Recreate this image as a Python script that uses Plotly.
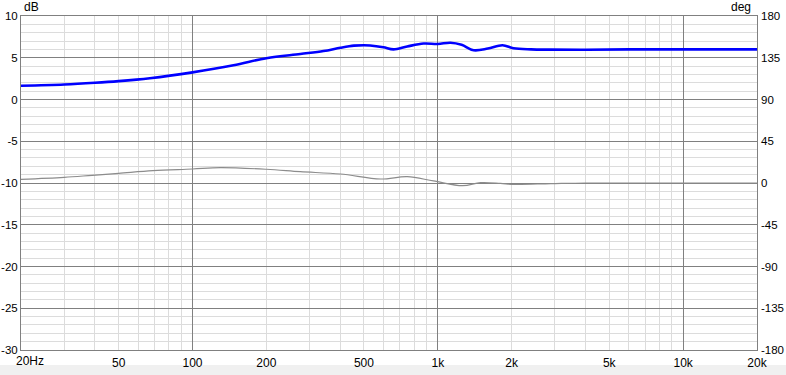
import plotly.graph_objects as go
import math

# ---- data ----
mag_freq = [20, 30, 40, 50, 67, 100, 147, 200, 275, 342, 401, 455, 500, 530, 600, 660,
            750, 875, 1000, 1126, 1250, 1400, 1600, 1836, 2036, 2400, 2886, 4000, 6000,
            10000, 15000, 20000]
mag_db = [1.65, 1.8, 2.0, 2.2, 2.55, 3.25, 4.1, 4.95, 5.45, 5.8, 6.2, 6.45, 6.5, 6.47,
          6.25, 6.0, 6.35, 6.7, 6.65, 6.8, 6.55, 5.9, 6.1, 6.5, 6.13, 6.0, 5.97, 5.95,
          6.0, 6.0, 6.0, 6.0]

ph_freq = [20, 30, 39, 50, 69, 100, 130, 200, 275, 401, 584, 750, 960, 1262, 1494,
           1800, 2040, 2886, 4000, 6000, 10000, 20000]
ph_deg = [4.0, 6.1, 8.3, 10.4, 13.3, 15.1, 16.6, 14.8, 12.2, 9.7, 4.3, 6.8, 2.2, -2.9,
          0.4, -0.4, -1.5, -0.7, 0.0, 0.0, 0.0, 0.0]

x_label_vals = [50, 100, 200, 500, 1000, 2000, 5000, 10000, 20000]
x_label_text = ["50", "100", "200", "500", "1k", "2k", "5k", "10k", "20k"]
x_minor_vals = [v * m for m in (10, 100, 1000) for v in range(2, 10)] + [20000]
x_major_grid = [100, 1000, 10000]

db_ticks = [-30, -25, -20, -15, -10, -5, 0, 5, 10]
db_text = ["-30", "-25", "-20", "-15", "-10", "-5", "0", "5", "10"]
deg_ticks = [-180, -135, -90, -45, 0, 45, 90, 135, 180]
deg_text = ["-180", "-135", "-90", "-45", "0", "45", "90", "135", "180"]

LIGHT = "#dcdcdc"
DARK = "#808080"
FONT = dict(family="Liberation Sans, Arial, sans-serif", size=12, color="#000000")

fig = go.Figure()
fig.add_trace(go.Scatter(x=mag_freq, y=mag_db, mode="lines",
                         line=dict(color="#0000ff", width=2.6, shape="spline", smoothing=1.0),
                         xaxis="x", yaxis="y", hoverinfo="skip", showlegend=False))
fig.add_trace(go.Scatter(x=ph_freq, y=ph_deg, mode="lines",
                         line=dict(color="#8c8c8c", width=1.2, shape="spline", smoothing=1.0),
                         xaxis="x2", yaxis="y2", hoverinfo="skip", showlegend=False))

xr = [math.log10(20), math.log10(20000)]

fig.update_layout(
    width=786, height=375,
    margin=dict(l=21, r=29, t=16, b=25),
    paper_bgcolor="white", plot_bgcolor="white",
    font=FONT,
    xaxis=dict(type="log", range=xr, tickvals=x_label_vals, ticktext=x_label_text,
               automargin=False,
               showgrid=True, gridcolor=LIGHT, gridwidth=1,
               minor=dict(tickvals=x_minor_vals, showgrid=True, gridcolor=LIGHT, gridwidth=1),
               showline=True, linecolor=DARK, linewidth=1, mirror=True,
               ticks="outside", ticklen=2, tickcolor="rgba(0,0,0,0)",
               tickfont=FONT, zeroline=False),
    xaxis2=dict(type="log", range=xr, overlaying="x", anchor="y2", automargin=False,
                tickvals=x_major_grid, showticklabels=False,
                showgrid=True, gridcolor=DARK, gridwidth=1, showline=False, zeroline=False),
    yaxis=dict(range=[-30, 10], tickvals=db_ticks, ticktext=db_text, automargin=False,
               showgrid=True, gridcolor=DARK, gridwidth=1,
               minor=dict(dtick=1, showgrid=True, gridcolor=LIGHT, gridwidth=1),
               showline=True, linecolor=DARK, linewidth=1, mirror=True,
               ticks="", tickfont=dict(FONT, size=11.5), zeroline=False),
    yaxis2=dict(range=[-180, 180], tickvals=deg_ticks, ticktext=deg_text, overlaying="y",
                side="right", anchor="x2", automargin=False, showgrid=False, zeroline=False,
                ticks="", ticklabelstandoff=3, tickfont=dict(FONT, size=11.5)),
)

# axis units and first frequency label
fig.add_annotation(text="dB", xref="paper", yref="paper", x=0.001, y=1 + 9 / 334,
                   xanchor="left", yanchor="middle", showarrow=False, font=FONT)
fig.add_annotation(text="deg", xref="paper", yref="paper", x=(753 - 21) / 736, y=1 + 9 / 334,
                   xanchor="right", yanchor="middle", showarrow=False, font=FONT)
fig.add_annotation(text="20Hz", xref="paper", yref="paper", x=(14 - 21) / 736, y=-11 / 334,
                   xanchor="left", yanchor="middle", showarrow=False, font=FONT)

# window status strip below the chart
fig.add_shape(type="rect", xref="paper", yref="paper", x0=-21 / 736, x1=1 + 29 / 736,
              y0=-15 / 334, y1=-26 / 334, fillcolor="#f0f0f0", line=dict(width=0), layer="below")

fig.write_html("out.html")
